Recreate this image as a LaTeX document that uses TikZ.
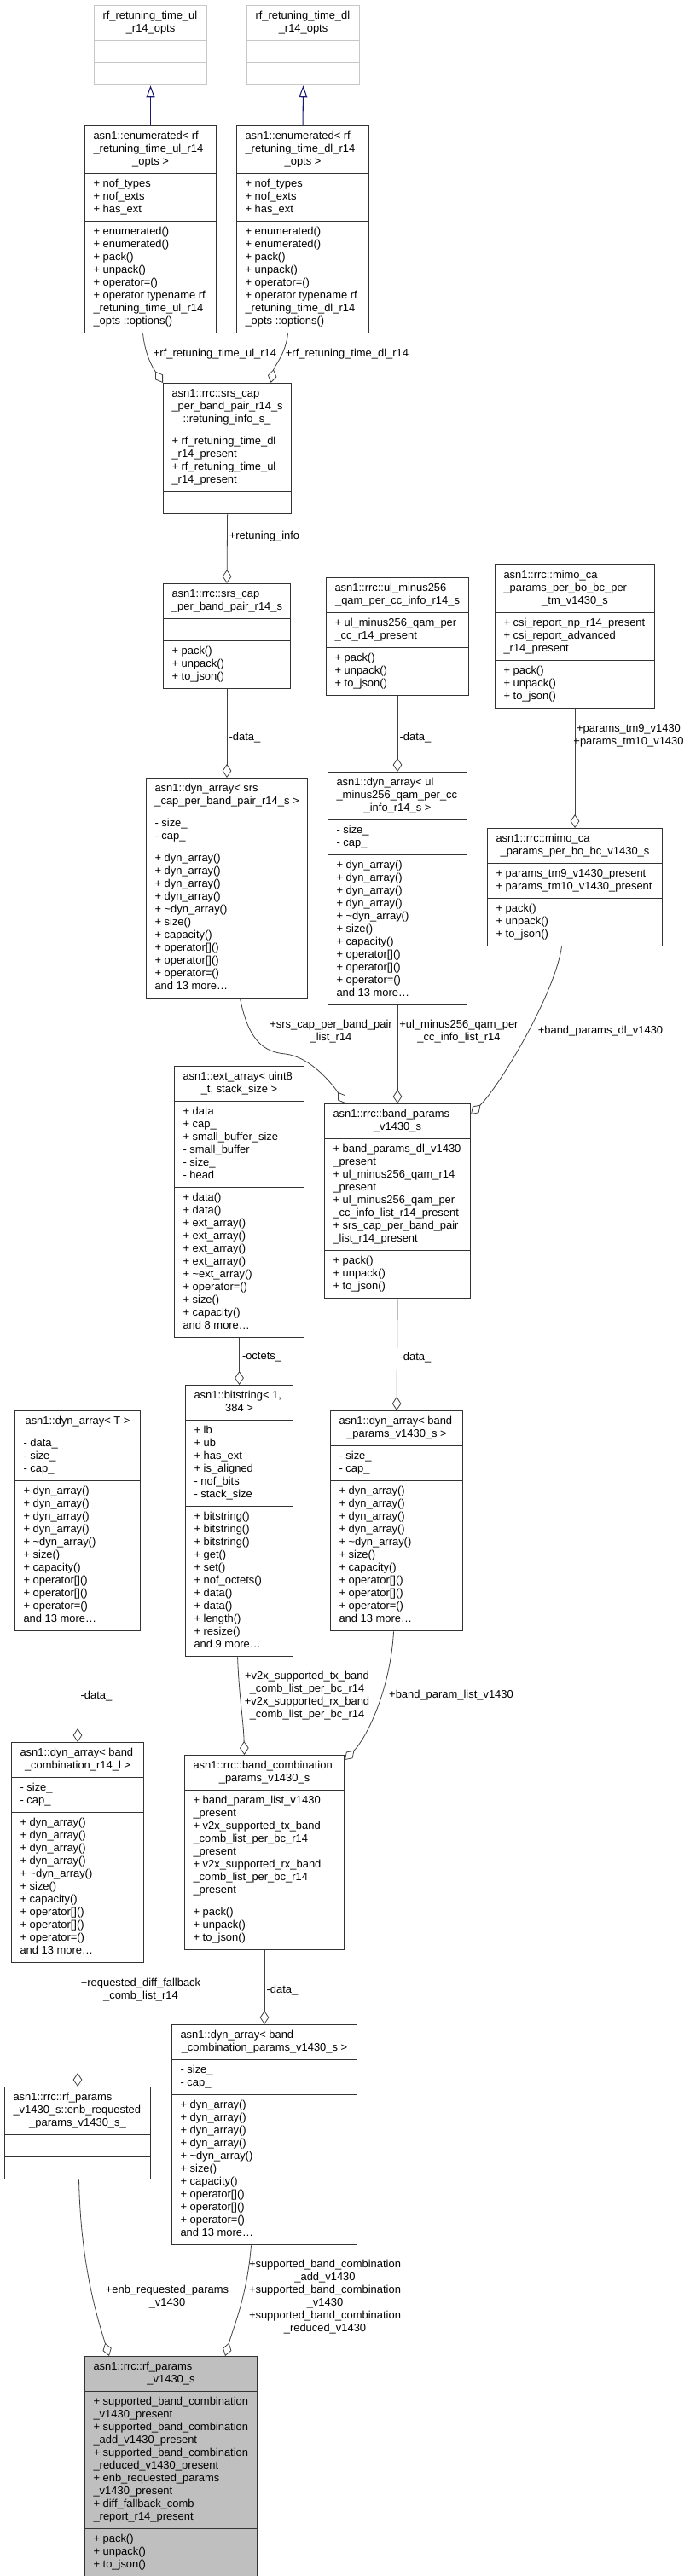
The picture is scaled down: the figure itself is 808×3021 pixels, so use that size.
\documentclass[tikz,border=0pt]{standalone}
\usepackage{fontspec}
\setmainfont{Liberation Sans}
\usetikzlibrary{shapes.multipart,arrows.meta,calc}
\definecolor{navy}{HTML}{191970}
\definecolor{edgegray}{HTML}{404040}
\newcommand{\ttl}[3]{\begin{tabular}{@{}l@{}}#2\\\makebox[#1]{#3}\end{tabular}}
\newcommand{\lst}[1]{\begin{tabular}{@{}l@{}}#1\end{tabular}}
\newcommand{\pmops}{\lst{+ pack()\\+ unpack()\\+ to\_json()}}
\newcommand{\sizecap}{\lst{- size\_\\- cap\_}}
\newcommand{\dynops}{\lst{+ dyn\_array()\\+ dyn\_array()\\+ dyn\_array()\\+ dyn\_array()\\+ \textasciitilde dyn\_array()\\+ size()\\+ capacity()\\+ operator[]()\\+ operator[]()\\+ operator=()\\and 13 more\ldots}}
\tikzset{
  cls/.style={draw=black!80,line width=0.8pt,fill=white,rectangle split,rectangle split parts=3,
    rectangle split part align={left,left,left},inner xsep=7.5pt,inner ysep=3.75pt,anchor=north west,
    font=\fontsize{9.7}{11.25}\selectfont},
  nodoc/.style={cls,draw=black!22},
  focus/.style={cls,fill=black!25},
  agg/.style={draw=edgegray,line width=0.6pt,-{Diamond[open,length=12pt,width=8pt]}},
  inh/.style={draw=navy,line width=0.8pt,-{Triangle[open,length=10.5pt,width=7.5pt]}},
  lbl/.style={inner sep=0pt,align=center,font=\fontsize{9.7}{11.25}\selectfont}
}
\begin{document}
\begin{tikzpicture}[x=0.75pt,y=-0.75pt]
\useasboundingbox (0,0) rectangle (808,3021);

\node[nodoc,minimum width=99pt] (ulopts) at (110,6) {\ttl{84pt}{rf\_retuning\_time\_ul}{\_r14\_opts}\nodepart{two}\strut\nodepart{three}\strut};
\node[nodoc,minimum width=99pt] (dlopts) at (289,6) {\ttl{84pt}{rf\_retuning\_time\_dl}{\_r14\_opts}\nodepart{two}\strut\nodepart{three}\strut};
\node[cls,minimum width=115.5pt] (enumul) at (99,147) {\ttl{100.5pt}{asn1::enumerated< rf\\\_retuning\_time\_ul\_r14}{\_opts >}\nodepart{two}\lst{+ nof\_types\\+ nof\_exts\\+ has\_ext}\nodepart{three}\lst{+ enumerated()\\+ enumerated()\\+ pack()\\+ unpack()\\+ operator=()\\+ operator typename rf\\\_retuning\_time\_ul\_r14\\\_opts ::options()}};
\node[cls,minimum width=116.25pt] (enumdl) at (277,147) {\ttl{101.25pt}{asn1::enumerated< rf\\\_retuning\_time\_dl\_r14}{\_opts >}\nodepart{two}\lst{+ nof\_types\\+ nof\_exts\\+ has\_ext}\nodepart{three}\lst{+ enumerated()\\+ enumerated()\\+ pack()\\+ unpack()\\+ operator=()\\+ operator typename rf\\\_retuning\_time\_dl\_r14\\\_opts ::options()}};
\node[cls,minimum width=111.75pt] (retinfo) at (191,449) {\ttl{96.75pt}{asn1::rrc::srs\_cap\\\_per\_band\_pair\_r14\_s}{::retuning\_info\_s\_}\nodepart{two}\lst{+ rf\_retuning\_time\_dl\\\_r14\_present\\+ rf\_retuning\_time\_ul\\\_r14\_present}\nodepart{three}\strut};
\node[cls,minimum width=111.75pt] (srscap) at (191,684) {\ttl{96.75pt}{asn1::rrc::srs\_cap}{\_per\_band\_pair\_r14\_s}\nodepart{two}\strut\nodepart{three}\pmops};
\node[cls,minimum width=125.25pt] (ulqam) at (382,677) {\ttl{110.25pt}{asn1::rrc::ul\_minus256}{\_qam\_per\_cc\_info\_r14\_s}\nodepart{two}\lst{+ ul\_minus256\_qam\_per\\\_cc\_r14\_present}\nodepart{three}\pmops};
\node[cls,minimum width=140.25pt] (mimotm) at (580,662) {\ttl{125.25pt}{asn1::rrc::mimo\_ca\\\_params\_per\_bo\_bc\_per}{\_tm\_v1430\_s}\nodepart{two}\lst{+ csi\_report\_np\_r14\_present\\+ csi\_report\_advanced\\\_r14\_present}\nodepart{three}\pmops};
\node[cls,minimum width=141.75pt] (dynsrs) at (171,912) {\ttl{126.75pt}{asn1::dyn\_array< srs}{\_cap\_per\_band\_pair\_r14\_s >}\nodepart{two}\sizecap\nodepart{three}\dynops};
\node[cls,minimum width=122.25pt] (dynul) at (384,905) {\ttl{107.25pt}{asn1::dyn\_array< ul\\\_minus256\_qam\_per\_cc}{\_info\_r14\_s >}\nodepart{two}\sizecap\nodepart{three}\dynops};
\node[cls,minimum width=153.75pt] (mimobc) at (571,971) {\ttl{138.75pt}{asn1::rrc::mimo\_ca}{\_params\_per\_bo\_bc\_v1430\_s}\nodepart{two}\lst{+ params\_tm9\_v1430\_present\\+ params\_tm10\_v1430\_present}\nodepart{three}\pmops};
\node[cls,minimum width=114pt] (extarr) at (204,1250) {\ttl{99pt}{asn1::ext\_array< uint8}{\_t, stack\_size >}\nodepart{two}\lst{+ data\\+ cap\_\\+ small\_buffer\_size\\- small\_buffer\\- size\_\\- head}\nodepart{three}\lst{+ data()\\+ data()\\+ ext\_array()\\+ ext\_array()\\+ ext\_array()\\+ ext\_array()\\+ \textasciitilde ext\_array()\\+ operator=()\\+ size()\\+ capacity()\\and 8 more\ldots}};
\node[cls,minimum width=128.25pt] (bandparams) at (380,1294) {\ttl{113.25pt}{asn1::rrc::band\_params}{\_v1430\_s}\nodepart{two}\lst{+ band\_params\_dl\_v1430\\\_present\\+ ul\_minus256\_qam\_r14\\\_present\\+ ul\_minus256\_qam\_per\\\_cc\_info\_list\_r14\_present\\+ srs\_cap\_per\_band\_pair\\\_list\_r14\_present}\nodepart{three}\pmops};
\node[cls,minimum width=110.25pt] (dynT) at (17,1654) {\lst{\makebox[95.25pt]{asn1::dyn\_array< T >}}\nodepart{two}\lst{- data\_\\- size\_\\- cap\_}\nodepart{three}\dynops};
\node[cls,minimum width=94.5pt] (bitstr) at (217,1624) {\ttl{79.5pt}{asn1::bitstring< 1,}{384 >}\nodepart{two}\lst{+ lb\\+ ub\\+ has\_ext\\+ is\_aligned\\- nof\_bits\\- stack\_size}\nodepart{three}\lst{+ bitstring()\\+ bitstring()\\+ bitstring()\\+ get()\\+ set()\\+ nof\_octets()\\+ data()\\+ data()\\+ length()\\+ resize()\\and 9 more\ldots}};
\node[cls,minimum width=116.25pt] (dynband) at (387,1654) {\ttl{101.25pt}{asn1::dyn\_array< band}{\_params\_v1430\_s >}\nodepart{two}\sizecap\nodepart{three}\dynops};
\node[cls,minimum width=116.25pt] (dynbc) at (13,2043) {\ttl{101.25pt}{asn1::dyn\_array< band}{\_combination\_r14\_l >}\nodepart{two}\sizecap\nodepart{three}\dynops};
\node[cls,minimum width=140.25pt] (bcp) at (216,2058) {\ttl{125.25pt}{asn1::rrc::band\_combination}{\_params\_v1430\_s}\nodepart{two}\lst{+ band\_param\_list\_v1430\\\_present\\+ v2x\_supported\_tx\_band\\\_comb\_list\_per\_bc\_r14\\\_present\\+ v2x\_supported\_rx\_band\\\_comb\_list\_per\_bc\_r14\\\_present}\nodepart{three}\pmops};
\node[cls,minimum width=128.25pt] (enbreq) at (5,2447) {\ttl{113.25pt}{asn1::rrc::rf\_params\\\_v1430\_s::enb\_requested}{\_params\_v1430\_s\_}\nodepart{two}\strut\nodepart{three}\strut};
\node[cls,minimum width=162.75pt] (dynbcp) at (201,2374) {\ttl{147.75pt}{asn1::dyn\_array< band}{\_combination\_params\_v1430\_s >}\nodepart{two}\sizecap\nodepart{three}\dynops};
\node[focus,minimum width=151.5pt] (rfparams) at (99,2763) {\ttl{136.5pt}{asn1::rrc::rf\_params}{\_v1430\_s}\nodepart{two}\lst{+ supported\_band\_combination\\\_v1430\_present\\+ supported\_band\_combination\\\_add\_v1430\_present\\+ supported\_band\_combination\\\_reduced\_v1430\_present\\+ enb\_requested\_params\\\_v1430\_present\\+ diff\_fallback\_comb\\\_report\_r14\_present}\nodepart{three}\pmops};

\draw[inh] (enumul.north) -- (ulopts.south);
\draw[inh] (enumdl.north) -- (dlopts.south);
\draw[agg] ($(enumul.south)+(-9,0)$) .. controls +(3,28) and +(-10,-15) .. (retinfo.north west);
\draw[agg] ($(enumdl.south)+(-17.5,0)$) .. controls +(-3,25) and +(4,-20) .. ($(retinfo.north)+(51,0)$);
\draw[agg] (retinfo.south) -- (srscap.north);
\draw[agg] (srscap.south) -- (dynsrs.north);
\draw[agg] (ulqam.south) -- (dynul.north);
\draw[agg] (mimotm.south) -- (mimobc.north);
\coordinate (srsbend) at (335,1236);
\draw[agg] ($(dynsrs.south)+(15.5,0)$) .. controls +(10,50) and +(-25,-2) .. (srsbend) .. controls +(30,4) and +(-15,-22) .. ($(bandparams.north west)+(25,0)$);
\draw[agg] (dynul.south) -- (bandparams.north);
\draw[agg] ($(mimobc.south)+(-15.5,0)$) .. controls +(-8,55) and +(35,-35) .. ($(bandparams.north east)+(0,13)$);
\draw[agg] (extarr.south) -- (bitstr.north);
\draw[agg] (bandparams.south) -- (dynband.north);
\draw[agg] (dynT.south) -- (dynbc.north);
\draw[agg] ($(bitstr.south)+(-2,0)$) .. controls +(2,50) and +(-1,-40) .. ($(bcp.north)+(-23.5,0)$);
\draw[agg] ($(dynband.south)+(-3.5,0)$) .. controls +(-4,70) and +(25,-25) .. ($(bcp.north east)+(0,6)$);
\draw[agg] (dynbc.south) -- (enbreq.north);
\draw[agg] (bcp.south) -- (dynbcp.north);
\draw[agg] ($(enbreq.south)+(1.5,0)$) .. controls +(2,100) and +(-14,-45) .. ($(rfparams.north west)+(29,0)$);
\draw[agg] ($(dynbcp.south)+(-15.5,0)$) .. controls +(-5,60) and +(10,-35) .. ($(rfparams.north east)+(-38,0)$);

\node[lbl] (lul) at (252,415) {+rf\_retuning\_time\_ul\_r14};
\node[lbl] (ldl) at (407,415) {+rf\_retuning\_time\_dl\_r14};
\node[lbl] (linfo) at (310,629) {+retuning\_info};
\node[lbl] (ldsrs) at (287,865) {-data\_};
\node[lbl] (ldul) at (487,865) {-data\_};
\node[lbl] (ltm) at (737,863) {+params\_tm9\_v1430\\+params\_tm10\_v1430};
\node[lbl] (lsrs) at (388,1210) {+srs\_cap\_per\_band\_pair\\\_list\_r14};
\node[lbl] (lqam) at (538,1210) {+ul\_minus256\_qam\_per\\\_cc\_info\_list\_r14};
\node[lbl] (lbdl) at (704,1209) {+band\_params\_dl\_v1430};
\node[lbl] (loct) at (307,1592) {-octets\_};
\node[lbl] (ldband) at (487,1592) {-data\_};
\node[lbl] (ldT) at (113,1989) {-data\_};
\node[lbl] (lv2x) at (360,1989) {+v2x\_supported\_tx\_band\\\_comb\_list\_per\_bc\_r14\\+v2x\_supported\_rx\_band\\\_comb\_list\_per\_bc\_r14};
\node[lbl] (lbpl) at (529,1988) {+band\_param\_list\_v1430};
\node[lbl] (lreq) at (165,2334) {+requested\_diff\_fallback\\\_comb\_list\_r14};
\node[lbl] (ldbcp) at (331,2334) {-data\_};
\node[lbl] (lenb) at (196,2694) {+enb\_requested\_params\\\_v1430};
\node[lbl] (lsup) at (381,2694) {+supported\_band\_combination\\\_add\_v1430\\+supported\_band\_combination\\\_v1430\\+supported\_band\_combination\\\_reduced\_v1430};
\end{tikzpicture}
\end{document}
